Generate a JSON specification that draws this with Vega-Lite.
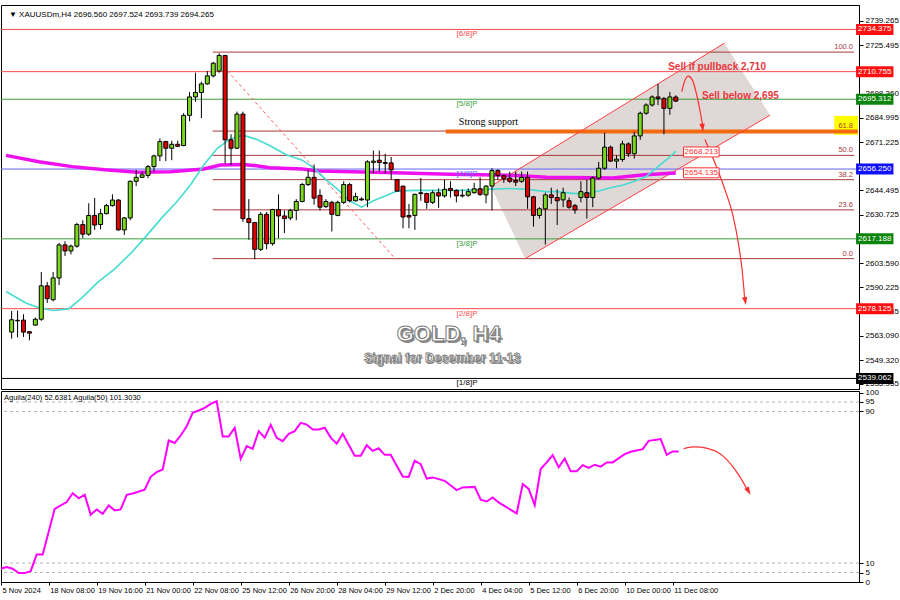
{
"$schema": "https://vega.github.io/schema/vega-lite/v6.json",
"background": "#ffffff",
"padding": {"left": 0, "top": 4, "right": 0, "bottom": 0},
"spacing": 2,
"bounds": "flush",
"config": {
  "view": {"stroke": "#000000", "strokeWidth": 1},
  "axis": {"labelFont": "Liberation Sans", "labelFontSize": 8, "labelColor": "#000000", "domainColor": "#000000", "tickColor": "#000000", "grid": false},
  "text": {"font": "Liberation Sans"}
},
"datasets": {
  "candles": [
    {"k":0,"o":2565.0,"h":2576.8,"l":2561.3,"c":2571.9},
    {"k":1,"o":2571.3,"h":2577.0,"l":2562.0,"c":2571.6},
    {"k":2,"o":2571.7,"h":2575.0,"l":2562.3,"c":2565.0},
    {"k":3,"o":2565.2,"h":2565.5,"l":2560.4,"c":2564.4},
    {"k":4,"o":2568.9,"h":2573.1,"l":2568.6,"c":2572.2},
    {"k":5,"o":2572.2,"h":2598.6,"l":2571.3,"c":2590.9},
    {"k":6,"o":2590.9,"h":2593.1,"l":2581.3,"c":2583.7},
    {"k":7,"o":2583.1,"h":2598.6,"l":2582.2,"c":2595.3},
    {"k":8,"o":2595.3,"h":2614.9,"l":2591.3,"c":2613.8},
    {"k":9,"o":2613.8,"h":2615.8,"l":2607.6,"c":2610.4},
    {"k":10,"o":2610.4,"h":2614.0,"l":2608.5,"c":2613.1},
    {"k":11,"o":2613.1,"h":2626.2,"l":2612.2,"c":2625.2},
    {"k":12,"o":2625.2,"h":2627.6,"l":2617.6,"c":2619.8},
    {"k":13,"o":2619.8,"h":2637.1,"l":2618.9,"c":2630.3},
    {"k":14,"o":2630.3,"h":2640.0,"l":2622.2,"c":2624.9},
    {"k":15,"o":2625.2,"h":2634.0,"l":2622.5,"c":2631.3},
    {"k":16,"o":2631.3,"h":2636.7,"l":2630.9,"c":2635.8},
    {"k":17,"o":2635.8,"h":2642.1,"l":2635.2,"c":2638.9},
    {"k":18,"o":2638.9,"h":2639.4,"l":2621.8,"c":2622.2},
    {"k":19,"o":2622.2,"h":2629.4,"l":2619.4,"c":2628.9},
    {"k":20,"o":2628.9,"h":2649.8,"l":2627.6,"c":2649.4},
    {"k":21,"o":2649.4,"h":2655.8,"l":2646.7,"c":2651.6},
    {"k":22,"o":2651.6,"h":2654.8,"l":2651.2,"c":2653.0},
    {"k":23,"o":2652.7,"h":2658.5,"l":2651.2,"c":2657.6},
    {"k":24,"o":2657.6,"h":2664.3,"l":2654.8,"c":2663.6},
    {"k":25,"o":2663.6,"h":2673.4,"l":2660.7,"c":2671.6},
    {"k":26,"o":2671.6,"h":2672.1,"l":2660.7,"c":2667.9},
    {"k":27,"o":2667.9,"h":2672.1,"l":2661.2,"c":2670.1},
    {"k":28,"o":2670.1,"h":2672.1,"l":2668.5,"c":2669.0},
    {"k":29,"o":2669.4,"h":2687.5,"l":2669.0,"c":2686.3},
    {"k":30,"o":2686.3,"h":2699.3,"l":2683.0,"c":2696.6},
    {"k":31,"o":2696.6,"h":2710.2,"l":2693.9,"c":2699.1},
    {"k":32,"o":2699.1,"h":2705.1,"l":2684.8,"c":2703.9},
    {"k":33,"o":2703.9,"h":2711.1,"l":2703.5,"c":2708.4},
    {"k":34,"o":2708.4,"h":2716.2,"l":2707.5,"c":2715.5},
    {"k":35,"o":2711.1,"h":2721.1,"l":2710.2,"c":2719.8},
    {"k":36,"o":2719.8,"h":2720.2,"l":2659.4,"c":2672.6},
    {"k":37,"o":2672.6,"h":2675.7,"l":2658.5,"c":2667.9},
    {"k":38,"o":2667.9,"h":2688.4,"l":2667.5,"c":2687.0},
    {"k":39,"o":2687.0,"h":2688.4,"l":2626.7,"c":2628.5},
    {"k":40,"o":2628.5,"h":2639.4,"l":2616.7,"c":2626.3},
    {"k":41,"o":2626.3,"h":2626.7,"l":2605.8,"c":2611.3},
    {"k":42,"o":2611.3,"h":2632.2,"l":2610.4,"c":2630.9},
    {"k":43,"o":2630.9,"h":2632.2,"l":2611.3,"c":2614.5},
    {"k":44,"o":2614.5,"h":2634.0,"l":2613.4,"c":2633.6},
    {"k":45,"o":2633.6,"h":2642.1,"l":2617.6,"c":2630.0},
    {"k":46,"o":2630.0,"h":2633.1,"l":2620.4,"c":2628.5},
    {"k":47,"o":2628.9,"h":2634.0,"l":2627.6,"c":2633.1},
    {"k":48,"o":2633.1,"h":2639.4,"l":2627.6,"c":2638.1},
    {"k":49,"o":2638.1,"h":2648.5,"l":2637.6,"c":2647.6},
    {"k":50,"o":2647.6,"h":2655.8,"l":2646.7,"c":2651.6},
    {"k":51,"o":2651.6,"h":2658.8,"l":2636.3,"c":2640.0},
    {"k":52,"o":2641.5,"h":2644.9,"l":2633.1,"c":2634.9},
    {"k":53,"o":2635.2,"h":2639.4,"l":2634.5,"c":2638.1},
    {"k":54,"o":2637.6,"h":2638.5,"l":2621.3,"c":2630.9},
    {"k":55,"o":2630.3,"h":2638.5,"l":2629.8,"c":2637.6},
    {"k":56,"o":2637.6,"h":2649.4,"l":2636.7,"c":2647.6},
    {"k":57,"o":2647.6,"h":2648.5,"l":2637.6,"c":2638.5},
    {"k":58,"o":2638.5,"h":2643.0,"l":2638.1,"c":2640.9},
    {"k":59,"o":2639.5,"h":2640.4,"l":2638.5,"c":2639.0},
    {"k":60,"o":2638.9,"h":2661.2,"l":2634.9,"c":2660.3},
    {"k":61,"o":2660.0,"h":2666.6,"l":2653.9,"c":2660.7},
    {"k":62,"o":2661.2,"h":2666.6,"l":2654.8,"c":2659.9},
    {"k":63,"o":2659.9,"h":2664.8,"l":2653.9,"c":2659.4},
    {"k":64,"o":2659.7,"h":2663.0,"l":2650.3,"c":2655.8},
    {"k":65,"o":2650.3,"h":2650.7,"l":2643.6,"c":2643.9},
    {"k":66,"o":2646.7,"h":2646.7,"l":2623.1,"c":2629.4},
    {"k":67,"o":2630.3,"h":2636.7,"l":2623.1,"c":2629.4},
    {"k":68,"o":2630.3,"h":2642.5,"l":2622.2,"c":2642.1},
    {"k":69,"o":2643.0,"h":2651.2,"l":2638.5,"c":2642.5},
    {"k":70,"o":2642.5,"h":2643.0,"l":2634.0,"c":2637.6},
    {"k":71,"o":2637.6,"h":2644.3,"l":2636.7,"c":2643.0},
    {"k":72,"o":2643.0,"h":2645.4,"l":2634.5,"c":2641.2},
    {"k":73,"o":2641.2,"h":2650.3,"l":2640.3,"c":2644.9},
    {"k":74,"o":2645.4,"h":2649.4,"l":2640.3,"c":2644.3},
    {"k":75,"o":2644.3,"h":2644.9,"l":2637.6,"c":2641.2},
    {"k":76,"o":2641.6,"h":2644.9,"l":2640.3,"c":2641.2},
    {"k":77,"o":2641.6,"h":2645.4,"l":2640.7,"c":2643.6},
    {"k":78,"o":2643.0,"h":2648.5,"l":2642.5,"c":2645.2},
    {"k":79,"o":2645.2,"h":2651.6,"l":2641.2,"c":2642.1},
    {"k":80,"o":2641.8,"h":2647.2,"l":2637.1,"c":2646.7},
    {"k":81,"o":2646.7,"h":2656.7,"l":2633.1,"c":2655.4},
    {"k":82,"o":2655.4,"h":2656.1,"l":2650.3,"c":2652.7},
    {"k":83,"o":2652.5,"h":2653.0,"l":2648.5,"c":2650.8},
    {"k":84,"o":2651.2,"h":2654.8,"l":2648.5,"c":2649.4},
    {"k":85,"o":2649.8,"h":2654.8,"l":2646.7,"c":2648.9},
    {"k":86,"o":2649.4,"h":2654.8,"l":2648.5,"c":2651.6},
    {"k":87,"o":2651.6,"h":2654.8,"l":2634.0,"c":2640.7},
    {"k":88,"o":2640.7,"h":2641.2,"l":2624.0,"c":2630.3},
    {"k":89,"o":2630.3,"h":2634.9,"l":2628.5,"c":2634.0},
    {"k":90,"o":2634.0,"h":2643.0,"l":2614.0,"c":2641.8},
    {"k":91,"o":2641.8,"h":2645.8,"l":2636.7,"c":2640.3},
    {"k":92,"o":2640.3,"h":2644.9,"l":2624.9,"c":2638.5},
    {"k":93,"o":2639.0,"h":2645.8,"l":2634.9,"c":2643.0},
    {"k":94,"o":2638.5,"h":2640.3,"l":2634.0,"c":2634.9},
    {"k":95,"o":2635.8,"h":2636.7,"l":2631.2,"c":2633.4},
    {"k":96,"o":2640.3,"h":2649.4,"l":2637.6,"c":2643.6},
    {"k":97,"o":2643.0,"h":2650.3,"l":2628.5,"c":2640.3},
    {"k":98,"o":2640.3,"h":2652.1,"l":2634.9,"c":2651.2},
    {"k":99,"o":2651.2,"h":2660.3,"l":2650.3,"c":2656.7},
    {"k":100,"o":2656.7,"h":2676.6,"l":2655.8,"c":2668.5},
    {"k":101,"o":2668.5,"h":2669.4,"l":2660.3,"c":2660.7},
    {"k":102,"o":2660.7,"h":2664.0,"l":2656.7,"c":2661.8},
    {"k":103,"o":2661.6,"h":2672.1,"l":2660.3,"c":2670.3},
    {"k":104,"o":2670.3,"h":2671.2,"l":2663.0,"c":2664.8},
    {"k":105,"o":2664.8,"h":2677.0,"l":2662.1,"c":2674.8},
    {"k":106,"o":2674.8,"h":2688.4,"l":2672.6,"c":2687.5},
    {"k":107,"o":2687.5,"h":2693.0,"l":2686.6,"c":2692.1},
    {"k":108,"o":2692.1,"h":2697.5,"l":2691.2,"c":2696.6},
    {"k":109,"o":2696.6,"h":2703.9,"l":2692.1,"c":2695.7},
    {"k":110,"o":2695.7,"h":2696.6,"l":2675.7,"c":2690.2},
    {"k":111,"o":2690.2,"h":2699.3,"l":2686.6,"c":2696.6},
    {"k":112,"o":2696.56,"h":2697.524,"l":2693.739,"c":2694.265}
  ],
  "ema21": [
    {"k":-0.95,"p":2587.7},{"k":2.4,"p":2581.3},{"k":4.6,"p":2578.6},{"k":7,"p":2577.1},{"k":9.6,"p":2578.0},
    {"k":11.8,"p":2584.0},{"k":14.6,"p":2593.1},{"k":17.4,"p":2600.4},{"k":20.2,"p":2609.5},{"k":22.4,"p":2617.6},
    {"k":25.2,"p":2628.5},{"k":28,"p":2638.5},{"k":30.2,"p":2647.6},{"k":32.4,"p":2658.5},{"k":34.6,"p":2667.6},
    {"k":36.8,"p":2673.0},{"k":39,"p":2675.2},{"k":41.2,"p":2673.0},{"k":43.5,"p":2669.4},{"k":46.3,"p":2664.3},
    {"k":49,"p":2661.2},{"k":51,"p":2656.7},{"k":53,"p":2650.3},{"k":55,"p":2644.9},{"k":57,"p":2638.5},
    {"k":59,"p":2634.9},{"k":61,"p":2638.5},{"k":63,"p":2641.2},{"k":65,"p":2643.9},{"k":68,"p":2644.3},
    {"k":72,"p":2644.3},{"k":76,"p":2644.3},{"k":80,"p":2644.9},{"k":84,"p":2645.4},{"k":87,"p":2644.9},
    {"k":90,"p":2643.6},{"k":92,"p":2643.6},{"k":95,"p":2642.5},{"k":97,"p":2642.5},{"k":99,"p":2644.0},
    {"k":101,"p":2645.8},{"k":103,"p":2647.2},{"k":105,"p":2649.4},{"k":107,"p":2652.1},{"k":109,"p":2657.6},
    {"k":111,"p":2663.0},{"k":112,"p":2666.3}
  ],
  "ema200": [
    {"k":-0.95,"p":2663.9},{"k":4.6,"p":2660.3},{"k":10.2,"p":2657.6},{"k":15.7,"p":2655.8},{"k":21.3,"p":2654.5},
    {"k":26.8,"p":2654.8},{"k":32.4,"p":2656.3},{"k":35.2,"p":2658.5},{"k":39,"p":2658.8},{"k":41.3,"p":2658.1},
    {"k":43.5,"p":2657.0},{"k":49,"p":2656.3},{"k":51.8,"p":2655.2},{"k":62.9,"p":2654.3},{"k":74,"p":2653.4},
    {"k":85.1,"p":2652.7},{"k":90.2,"p":2651.6},{"k":101.3,"p":2651.2},{"k":106.8,"p":2653.0},{"k":112,"p":2654.1}
  ],
  "murrey": [
    {"level":"[6/8]P","p":2734.375},
    {"level":"R","p":2710.755},
    {"level":"[5/8]P","p":2695.312},
    {"level":"[4/8]P","p":2656.25},
    {"level":"[3/8]P","p":2617.188},
    {"level":"[2/8]P","p":2578.125},
    {"level":"[1/8]P","p":2539.062}
  ],
  "fib": [
    {"fib":"100.0","p":2721.7,"k":33.9},
    {"fib":"61.8","p":2677.5,"k":33.9},
    {"fib":"50.0","p":2663.9,"k":33.9},
    {"fib":"38.2","p":2650.3,"k":33.9},
    {"fib":"23.6","p":2633.4,"k":33.9},
    {"fib":"0.0","p":2606.1,"k":33.9}
  ],
  "channel": [
    {"k":80.8,"top":2646.6,"bot":2646.6},
    {"k":86.6,"top":2658.4,"bot":2606.1},
    {"k":120.2,"top":2726.7,"bot":2671.4},
    {"k":127.9,"top":2686.4,"bot":2686.4}
  ],
  "chlines": [
    {"k":80.8,"p":2646.6,"k2":120.2,"p2":2726.7},
    {"k":86.6,"p":2606.1,"k2":127.9,"p2":2686.4}
  ],
  "dashed": [{"k":35.7,"p":2713.7,"k2":64.6,"p2":2606.4}],
  "support": [{"k":73.2,"k2":142.7,"p":2677.2}],
  "yellow": [{"p":2680.7}],
  "curves": [
    {"path":"a","i":0,"k":113.0,"p":2699.5},{"path":"a","i":1,"k":113.5,"p":2705.5},{"path":"a","i":2,"k":114.1,"p":2708.2},
    {"path":"a","i":3,"k":114.8,"p":2706.0},{"path":"a","i":4,"k":115.4,"p":2699.5},{"path":"a","i":5,"k":116.1,"p":2688.6},
    {"path":"a","i":6,"k":116.5,"p":2681.0},
    {"path":"b","i":0,"k":116.9,"p":2672.8},{"path":"b","i":1,"k":118.4,"p":2661.3},{"path":"b","i":2,"k":120.2,"p":2645.5},
    {"path":"b","i":3,"k":121.6,"p":2630.8},{"path":"b","i":4,"k":122.6,"p":2613.9},{"path":"b","i":5,"k":123.2,"p":2599.2},
    {"path":"b","i":6,"k":123.6,"p":2584.5}
  ],
  "headA": [{"k":116.5,"p":2679.6}],
  "headB": [{"k":123.7,"p":2582.6}],
  "sells": [
    {"t":"Sell if pullback 2,710","k":118.96,"p":2713.3},
    {"t":"Sell below 2,695","k":122.9,"p":2697.1}
  ],
  "strong": [{"t":"Strong support","k":80.4,"p":2682.4}],
  "malabels": [{"label":"2668.213","p":2665.8},{"label":"2654.135","p":2654.135}],
  "header": [{"t":"▼ XAUUSDm,H4  2696.560 2697.524 2693.739 2694.265"}],
  "gold": [{"t":"GOLD, H4","k":73.7,"p":2564.2}],
  "signal": [{"t":"Signal for December 11-13","k":72.6,"p":2550.4}],
  "osc": [
    {"k":-1,"v":7.0},{"k":0,"v":7.9},{"k":1,"v":7.0},{"k":2,"v":4.7},{"k":3,"v":4.7},{"k":4,"v":5.7},{"k":5,"v":14.5},{"k":6,"v":14.5},
    {"k":8,"v":38.6},{"k":10,"v":42.2},{"k":11,"v":46.9},{"k":12,"v":44.2},{"k":13,"v":46.1},{"k":14,"v":35.5},{"k":15,"v":38.3},
    {"k":16,"v":36.0},{"k":17,"v":40.4},{"k":18,"v":37.8},{"k":19,"v":38.3},{"k":20,"v":46.0},{"k":21,"v":46.7},{"k":23,"v":48.7},
    {"k":24,"v":55.5},{"k":25,"v":58.0},{"k":26,"v":59.4},{"k":27,"v":74.7},{"k":28,"v":73.4},{"k":29,"v":77.3},{"k":30,"v":82.2},
    {"k":31,"v":89.3},{"k":32,"v":90.5},{"k":33,"v":91.9},{"k":34,"v":94.0},{"k":35,"v":95.4},{"k":36,"v":76.8},{"k":37,"v":76.8},
    {"k":38,"v":81.4},{"k":39,"v":65.0},{"k":40,"v":71.7},{"k":41,"v":70.3},{"k":42,"v":79.6},{"k":43,"v":76.1},{"k":44,"v":82.9},
    {"k":45,"v":76.1},{"k":46,"v":74.3},{"k":47,"v":78.2},{"k":48,"v":79.6},{"k":49,"v":84.0},{"k":50,"v":83.1},{"k":51,"v":80.5},
    {"k":52,"v":80.5},{"k":53,"v":81.4},{"k":54,"v":76.2},{"k":55,"v":73.0},{"k":56,"v":78.2},{"k":58,"v":66.6},{"k":59,"v":66.6},
    {"k":60,"v":72.2},{"k":61,"v":69.2},{"k":62,"v":70.6},{"k":63,"v":67.1},{"k":64,"v":67.1},{"k":66,"v":55.7},{"k":67,"v":55.5},
    {"k":68,"v":64.0},{"k":69,"v":62.2},{"k":70,"v":54.6},{"k":71,"v":55.2},{"k":73,"v":53.4},{"k":75,"v":48.5},{"k":76,"v":49.9},
    {"k":78,"v":50.2},{"k":79,"v":43.4},{"k":80,"v":42.5},{"k":81,"v":44.6},{"k":82,"v":42.0},{"k":84,"v":38.1},{"k":85,"v":36.2},
    {"k":86,"v":51.7},{"k":87,"v":49.1},{"k":88,"v":40.6},{"k":89,"v":59.6},{"k":90,"v":63.1},{"k":91,"v":67.0},{"k":92,"v":60.5},
    {"k":93,"v":65.2},{"k":94,"v":58.4},{"k":95,"v":58.4},{"k":96,"v":61.7},{"k":97,"v":60.2},{"k":98,"v":61.9},{"k":99,"v":60.9},
    {"k":100,"v":63.1},{"k":101,"v":63.1},{"k":103,"v":67.5},{"k":104,"v":68.7},{"k":106,"v":70.1},{"k":107,"v":74.5},{"k":108,"v":75.0},
    {"k":109,"v":75.4},{"k":110,"v":67.1},{"k":111,"v":68.9},{"k":112,"v":68.9}
  ],
  "oscgrid": [{"v":5},{"v":10},{"v":90},{"v":95}],
  "osccurve": [
    {"i":0,"k":112.8,"v":70.3},{"i":1,"k":114.4,"v":71.3},{"i":2,"k":115.7,"v":71.2},{"i":3,"k":117.0,"v":70.3},
    {"i":4,"k":118.5,"v":68.5},{"i":5,"k":119.9,"v":65.0},{"i":6,"k":121.3,"v":59.7},{"i":7,"k":122.9,"v":51.8},{"i":8,"k":123.4,"v":48.8}
  ],
  "oschead": [{"k":123.6,"v":48.1}],
  "osctitle": [{"t":"Aguila(240) 52.6381  Aguila(50) 101.3030"}]
},
"vconcat": [
  {
    "width": 858,
    "height": 384,
    "resolve": {"axis": {"x": "independent", "y": "independent"}},
    "layer": [
      {
        "data": {"name": "channel"},
        "mark": {"type": "area", "color": "#cbbdbd", "opacity": 0.6},
        "encoding": {
          "x": {"field": "k", "type": "quantitative", "scale": {"domain": [-0.95, 142.05], "nice": false, "zero": false}, "axis": null},
          "y": {"field": "top", "type": "quantitative", "scale": {"domain": [2535.95, 2745.26], "nice": false, "zero": false},
                "axis": {"orient": "right", "title": null, "values": [2739.265, 2725.495, 2698.36, 2684.995, 2671.225, 2644.495, 2630.725, 2603.59, 2590.225, 2576.455, 2563.09, 2549.32, 2535.955],
                         "format": ".3f", "tickSize": 4, "labelPadding": 2, "labelOverlap": false, "labelFontSize": 8}},
          "y2": {"field": "bot"}
        }
      },
      {
        "data": {"name": "murrey"},
        "mark": {"type": "rule", "strokeWidth": 1},
        "encoding": {
          "y": {"field": "p", "type": "quantitative", "scale": {"domain": [2535.95, 2745.26], "nice": false, "zero": false}, "axis": null},
          "color": {"field": "level", "type": "nominal", "legend": null,
                    "scale": {"domain": ["[6/8]P", "R", "[5/8]P", "[4/8]P", "[3/8]P", "[2/8]P", "[1/8]P"],
                              "range": ["#ff4a4a", "#ff4a4a", "#3c9e3c", "#6464ff", "#3c9e3c", "#ff4a4a", "#000000"]}}
        }
      },
      {
        "data": {"name": "fib"},
        "mark": {"type": "rule", "color": "#a83a3a", "strokeWidth": 1},
        "encoding": {
          "x": {"field": "k", "type": "quantitative", "scale": {"domain": [-0.95, 142.05], "nice": false, "zero": false}, "axis": null},
          "x2": {"datum": 142.05},
          "y": {"field": "p", "type": "quantitative", "scale": {"domain": [2535.95, 2745.26], "nice": false, "zero": false}, "axis": null}
        }
      },
      {
        "data": {"name": "yellow"},
        "mark": {"type": "bar", "orient": "horizontal", "height": 19, "color": "#ffff00"},
        "encoding": {
          "x": {"datum": 138.72, "type": "quantitative", "scale": {"domain": [-0.95, 142.05], "nice": false, "zero": false}, "axis": null},
          "x2": {"datum": 142.72},
          "y": {"field": "p", "type": "quantitative", "scale": {"domain": [2535.95, 2745.26], "nice": false, "zero": false}, "axis": null}
        }
      },
      {
        "data": {"name": "support"},
        "mark": {"type": "rule", "color": "#f26a10", "strokeWidth": 4},
        "encoding": {
          "x": {"field": "k", "type": "quantitative", "scale": {"domain": [-0.95, 142.05], "nice": false, "zero": false}, "axis": null},
          "x2": {"field": "k2"},
          "y": {"field": "p", "type": "quantitative", "scale": {"domain": [2535.95, 2745.26], "nice": false, "zero": false}, "axis": null}
        }
      },
      {
        "data": {"name": "dashed"},
        "mark": {"type": "rule", "color": "#ff5a5a", "strokeWidth": 1, "strokeDash": [3, 3]},
        "encoding": {
          "x": {"field": "k", "type": "quantitative", "scale": {"domain": [-0.95, 142.05], "nice": false, "zero": false}, "axis": null},
          "x2": {"field": "k2"},
          "y": {"field": "p", "type": "quantitative", "scale": {"domain": [2535.95, 2745.26], "nice": false, "zero": false}, "axis": null},
          "y2": {"field": "p2"}
        }
      },
      {
        "data": {"name": "chlines"},
        "mark": {"type": "rule", "color": "#ff4040", "strokeWidth": 1},
        "encoding": {
          "x": {"field": "k", "type": "quantitative", "scale": {"domain": [-0.95, 142.05], "nice": false, "zero": false}, "axis": null},
          "x2": {"field": "k2"},
          "y": {"field": "p", "type": "quantitative", "scale": {"domain": [2535.95, 2745.26], "nice": false, "zero": false}, "axis": null},
          "y2": {"field": "p2"}
        }
      },
      {
        "data": {"name": "ema200"},
        "mark": {"type": "line", "color": "#ee10ee", "strokeWidth": 3.5, "clip": true},
        "encoding": {
          "x": {"field": "k", "type": "quantitative", "scale": {"domain": [-0.95, 142.05], "nice": false, "zero": false}, "axis": null},
          "y": {"field": "p", "type": "quantitative", "scale": {"domain": [2535.95, 2745.26], "nice": false, "zero": false}, "axis": null}
        }
      },
      {
        "data": {"name": "ema21"},
        "mark": {"type": "line", "color": "#46dccf", "strokeWidth": 1.6, "clip": true},
        "encoding": {
          "x": {"field": "k", "type": "quantitative", "scale": {"domain": [-0.95, 142.05], "nice": false, "zero": false}, "axis": null},
          "y": {"field": "p", "type": "quantitative", "scale": {"domain": [2535.95, 2745.26], "nice": false, "zero": false}, "axis": null}
        }
      },
      {
        "data": {"name": "candles"},
        "mark": {"type": "rule", "color": "#000000", "strokeWidth": 1},
        "encoding": {
          "x": {"field": "k", "type": "quantitative", "scale": {"domain": [-0.95, 142.05], "nice": false, "zero": false}, "axis": null},
          "y": {"field": "l", "type": "quantitative", "scale": {"domain": [2535.95, 2745.26], "nice": false, "zero": false}, "axis": null},
          "y2": {"field": "h"}
        }
      },
      {
        "data": {"name": "candles"},
        "mark": {"type": "bar", "width": 4, "stroke": "#000000", "strokeWidth": 1},
        "encoding": {
          "x": {"field": "k", "type": "quantitative", "scale": {"domain": [-0.95, 142.05], "nice": false, "zero": false}, "axis": null},
          "y": {"field": "o", "type": "quantitative", "scale": {"domain": [2535.95, 2745.26], "nice": false, "zero": false}, "axis": null},
          "y2": {"field": "c"},
          "color": {"condition": {"test": "datum.c >= datum.o", "value": "#7ad91e"}, "value": "#e00000"}
        }
      },
      {
        "data": {"name": "curves"},
        "mark": {"type": "line", "color": "#ff3030", "strokeWidth": 1.2, "interpolate": "monotone"},
        "encoding": {
          "x": {"field": "k", "type": "quantitative", "scale": {"domain": [-0.95, 142.05], "nice": false, "zero": false}, "axis": null},
          "y": {"field": "p", "type": "quantitative", "scale": {"domain": [2535.95, 2745.26], "nice": false, "zero": false}, "axis": null},
          "detail": {"field": "path"},
          "order": {"field": "i"}
        }
      },
      {
        "data": {"name": "headA"},
        "mark": {"type": "point", "shape": "M0,-1L0.6,0.8L-0.6,0.8Z", "filled": true, "color": "#ff2a2a", "size": 80, "angle": 173, "opacity": 1},
        "encoding": {
          "x": {"field": "k", "type": "quantitative", "scale": {"domain": [-0.95, 142.05], "nice": false, "zero": false}, "axis": null},
          "y": {"field": "p", "type": "quantitative", "scale": {"domain": [2535.95, 2745.26], "nice": false, "zero": false}, "axis": null}
        }
      },
      {
        "data": {"name": "headB"},
        "mark": {"type": "point", "shape": "M0,-1L0.6,0.8L-0.6,0.8Z", "filled": true, "color": "#ff2a2a", "size": 80, "angle": 171, "opacity": 1},
        "encoding": {
          "x": {"field": "k", "type": "quantitative", "scale": {"domain": [-0.95, 142.05], "nice": false, "zero": false}, "axis": null},
          "y": {"field": "p", "type": "quantitative", "scale": {"domain": [2535.95, 2745.26], "nice": false, "zero": false}, "axis": null}
        }
      },
      {
        "data": {"name": "sells"},
        "mark": {"type": "text", "font": "Liberation Sans", "fontWeight": "bold", "fontSize": 10, "color": "#e8383d", "align": "center", "baseline": "middle"},
        "encoding": {
          "x": {"field": "k", "type": "quantitative", "scale": {"domain": [-0.95, 142.05], "nice": false, "zero": false}, "axis": null},
          "y": {"field": "p", "type": "quantitative", "scale": {"domain": [2535.95, 2745.26], "nice": false, "zero": false}, "axis": null},
          "text": {"field": "t"}
        }
      },
      {
        "data": {"name": "strong"},
        "mark": {"type": "text", "font": "Liberation Serif", "fontSize": 10, "color": "#000000", "align": "center", "baseline": "middle"},
        "encoding": {
          "x": {"field": "k", "type": "quantitative", "scale": {"domain": [-0.95, 142.05], "nice": false, "zero": false}, "axis": null},
          "y": {"field": "p", "type": "quantitative", "scale": {"domain": [2535.95, 2745.26], "nice": false, "zero": false}, "axis": null},
          "text": {"field": "t"}
        }
      },
      {
        "data": {"name": "murrey"},
        "transform": [{"filter": "datum.level != 'R'"}],
        "mark": {"type": "text", "fontSize": 8, "align": "center", "baseline": "top", "dy": 1},
        "encoding": {
          "x": {"datum": 76.8, "type": "quantitative", "scale": {"domain": [-0.95, 142.05], "nice": false, "zero": false}, "axis": null},
          "y": {"field": "p", "type": "quantitative", "scale": {"domain": [2535.95, 2745.26], "nice": false, "zero": false}, "axis": null},
          "text": {"field": "level"},
          "color": {"field": "level", "type": "nominal", "legend": null,
                    "scale": {"domain": ["[6/8]P", "R", "[5/8]P", "[4/8]P", "[3/8]P", "[2/8]P", "[1/8]P"],
                              "range": ["#ff4a4a", "#ff4a4a", "#3c9e3c", "#6464ff", "#3c9e3c", "#ff4a4a", "#000000"]}}
        }
      },
      {
        "data": {"name": "fib"},
        "mark": {"type": "text", "fontSize": 7.5, "align": "right", "baseline": "bottom", "dy": -1, "dx": -1, "color": "#a83a3a"},
        "encoding": {
          "x": {"datum": 142.05, "type": "quantitative", "scale": {"domain": [-0.95, 142.05], "nice": false, "zero": false}, "axis": null},
          "y": {"field": "p", "type": "quantitative", "scale": {"domain": [2535.95, 2745.26], "nice": false, "zero": false}, "axis": null},
          "text": {"field": "fib"}
        }
      },
      {
        "data": {"name": "murrey"},
        "mark": {"type": "bar", "orient": "horizontal", "height": 11},
        "encoding": {
          "x": {"datum": 142.4, "type": "quantitative", "scale": {"domain": [-0.95, 142.05], "nice": false, "zero": false}, "axis": null},
          "x2": {"datum": 148.7},
          "y": {"field": "p", "type": "quantitative", "scale": {"domain": [2535.95, 2745.26], "nice": false, "zero": false}, "axis": null},
          "fill": {"field": "level", "type": "nominal", "legend": null,
                   "scale": {"domain": ["[6/8]P", "R", "[5/8]P", "[4/8]P", "[3/8]P", "[2/8]P", "[1/8]P"],
                             "range": ["#ff1010", "#ff1010", "#0a840a", "#1010ff", "#0a840a", "#ff1010", "#000000"]}}
        }
      },
      {
        "data": {"name": "murrey"},
        "mark": {"type": "text", "fontSize": 8, "color": "#ffffff", "align": "center", "baseline": "middle"},
        "encoding": {
          "x": {"datum": 145.55, "type": "quantitative", "scale": {"domain": [-0.95, 142.05], "nice": false, "zero": false}, "axis": null},
          "y": {"field": "p", "type": "quantitative", "scale": {"domain": [2535.95, 2745.26], "nice": false, "zero": false}, "axis": null},
          "text": {"field": "p", "type": "quantitative", "format": ".3f"}
        }
      },
      {
        "data": {"name": "malabels"},
        "mark": {"type": "bar", "orient": "horizontal", "height": 10, "fill": "#ffffff", "stroke": "#ff3030", "strokeWidth": 1},
        "encoding": {
          "x": {"datum": 113.3, "type": "quantitative", "scale": {"domain": [-0.95, 142.05], "nice": false, "zero": false}, "axis": null},
          "x2": {"datum": 119.3},
          "y": {"field": "p", "type": "quantitative", "scale": {"domain": [2535.95, 2745.26], "nice": false, "zero": false}, "axis": null}
        }
      },
      {
        "data": {"name": "malabels"},
        "mark": {"type": "text", "fontSize": 8, "color": "#ff3030", "align": "center", "baseline": "middle"},
        "encoding": {
          "x": {"datum": 116.3, "type": "quantitative", "scale": {"domain": [-0.95, 142.05], "nice": false, "zero": false}, "axis": null},
          "y": {"field": "p", "type": "quantitative", "scale": {"domain": [2535.95, 2745.26], "nice": false, "zero": false}, "axis": null},
          "text": {"field": "label"}
        }
      },
      {
        "data": {"name": "header"},
        "mark": {"type": "text", "fontSize": 8, "color": "#000000", "align": "left", "baseline": "middle"},
        "encoding": {
          "x": {"datum": -0.45, "type": "quantitative", "scale": {"domain": [-0.95, 142.05], "nice": false, "zero": false}, "axis": null},
          "y": {"datum": 2742.5, "type": "quantitative", "scale": {"domain": [2535.95, 2745.26], "nice": false, "zero": false}, "axis": null},
          "text": {"field": "t"}
        }
      },
      {
        "data": {"name": "gold"},
        "mark": {"type": "text", "font": "Liberation Sans", "fontWeight": "bold", "fontSize": 22, "color": "#8c8c8c", "align": "center", "baseline": "middle", "dx": 2, "dy": 2},
        "encoding": {
          "x": {"field": "k", "type": "quantitative", "scale": {"domain": [-0.95, 142.05], "nice": false, "zero": false}, "axis": null},
          "y": {"field": "p", "type": "quantitative", "scale": {"domain": [2535.95, 2745.26], "nice": false, "zero": false}, "axis": null},
          "text": {"field": "t"}
        }
      },
      {
        "data": {"name": "gold"},
        "mark": {"type": "text", "font": "Liberation Sans", "fontWeight": "bold", "fontSize": 22, "fill": "#ffffff", "stroke": "#7a7a7a", "strokeWidth": 1, "align": "center", "baseline": "middle"},
        "encoding": {
          "x": {"field": "k", "type": "quantitative", "scale": {"domain": [-0.95, 142.05], "nice": false, "zero": false}, "axis": null},
          "y": {"field": "p", "type": "quantitative", "scale": {"domain": [2535.95, 2745.26], "nice": false, "zero": false}, "axis": null},
          "text": {"field": "t"}
        }
      },
      {
        "data": {"name": "signal"},
        "mark": {"type": "text", "font": "Liberation Sans", "fontWeight": "bold", "fontSize": 12.5, "color": "#8c8c8c", "align": "center", "baseline": "middle", "dx": 1.5, "dy": 1.5},
        "encoding": {
          "x": {"field": "k", "type": "quantitative", "scale": {"domain": [-0.95, 142.05], "nice": false, "zero": false}, "axis": null},
          "y": {"field": "p", "type": "quantitative", "scale": {"domain": [2535.95, 2745.26], "nice": false, "zero": false}, "axis": null},
          "text": {"field": "t"}
        }
      },
      {
        "data": {"name": "signal"},
        "mark": {"type": "text", "font": "Liberation Sans", "fontWeight": "bold", "fontSize": 12.5, "fill": "#ffffff", "stroke": "#7a7a7a", "strokeWidth": 0.8, "align": "center", "baseline": "middle"},
        "encoding": {
          "x": {"field": "k", "type": "quantitative", "scale": {"domain": [-0.95, 142.05], "nice": false, "zero": false}, "axis": null},
          "y": {"field": "p", "type": "quantitative", "scale": {"domain": [2535.95, 2745.26], "nice": false, "zero": false}, "axis": null},
          "text": {"field": "t"}
        }
      }
    ]
  },
  {
    "width": 858,
    "height": 191,
    "resolve": {"axis": {"x": "independent", "y": "independent"}},
    "layer": [
      {
        "data": {"name": "oscgrid"},
        "mark": {"type": "rule", "color": "#b4b4b4", "strokeWidth": 1, "strokeDash": [3, 3]},
        "encoding": {
          "y": {"field": "v", "type": "quantitative", "scale": {"domain": [0, 100.8], "nice": false, "zero": false}, "axis": null}
        }
      },
      {
        "data": {"name": "osc"},
        "mark": {"type": "line", "color": "#ff00ff", "strokeWidth": 2, "clip": true},
        "encoding": {
          "x": {"field": "k", "type": "quantitative", "scale": {"domain": [-0.95, 142.05], "nice": false, "zero": false},
                "axis": {"orient": "bottom", "title": null, "values": [-0.95, 7, 15, 23, 31, 39, 47, 55, 63, 71, 79, 87, 95, 103, 111],
                         "labelExpr": "datum.value < 0 ? '5 Nov 2024' : ['18 Nov 08:00','19 Nov 16:00','21 Nov 00:00','22 Nov 08:00','25 Nov 12:00','26 Nov 20:00','28 Nov 04:00','29 Nov 12:00','2 Dec 20:00','4 Dec 04:00','5 Dec 12:00','6 Dec 20:00','10 Dec 00:00','11 Dec 08:00'][(datum.value - 7) / 8]",
                         "labelAlign": "left", "labelOffset": 1, "labelBaseline": "top", "labelPadding": 1, "tickSize": 3,
                         "labelFlush": false, "labelOverlap": false, "labelFontSize": 7.5}},
          "y": {"field": "v", "type": "quantitative", "scale": {"domain": [0, 100.8], "nice": false, "zero": false},
                "axis": {"orient": "right", "title": null, "values": [0, 5, 10, 90, 95, 100], "format": "d", "tickSize": 4, "labelPadding": 2, "labelOverlap": false, "labelFontSize": 8}}
        }
      },
      {
        "data": {"name": "osccurve"},
        "mark": {"type": "line", "color": "#ff3030", "strokeWidth": 1.2, "interpolate": "monotone"},
        "encoding": {
          "x": {"field": "k", "type": "quantitative", "scale": {"domain": [-0.95, 142.05], "nice": false, "zero": false}, "axis": null},
          "y": {"field": "v", "type": "quantitative", "scale": {"domain": [0, 100.8], "nice": false, "zero": false}, "axis": null},
          "order": {"field": "i"}
        }
      },
      {
        "data": {"name": "oschead"},
        "mark": {"type": "point", "shape": "M0,-1L0.6,0.8L-0.6,0.8Z", "filled": true, "color": "#ff2a2a", "size": 80, "angle": 150, "opacity": 1},
        "encoding": {
          "x": {"field": "k", "type": "quantitative", "scale": {"domain": [-0.95, 142.05], "nice": false, "zero": false}, "axis": null},
          "y": {"field": "v", "type": "quantitative", "scale": {"domain": [0, 100.8], "nice": false, "zero": false}, "axis": null}
        }
      },
      {
        "data": {"name": "osctitle"},
        "mark": {"type": "text", "fontSize": 7.5, "color": "#000000", "align": "left", "baseline": "middle"},
        "encoding": {
          "x": {"datum": -0.45, "type": "quantitative", "scale": {"domain": [-0.95, 142.05], "nice": false, "zero": false}, "axis": null},
          "y": {"datum": 97.2, "type": "quantitative", "scale": {"domain": [0, 100.8], "nice": false, "zero": false}, "axis": null},
          "text": {"field": "t"}
        }
      }
    ]
  }
]
}
